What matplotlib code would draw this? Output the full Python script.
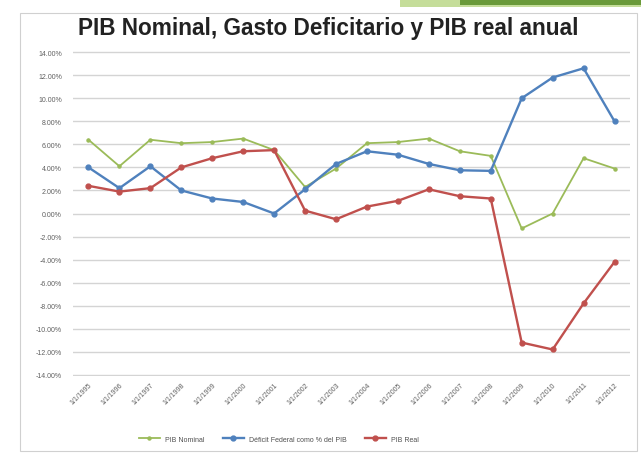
import matplotlib
matplotlib.use('Agg')
import matplotlib.pyplot as plt
from matplotlib.patches import Rectangle
from matplotlib.ticker import FuncFormatter

plt.rcParams['font.family'] = ['Liberation Sans', 'DejaVu Sans']

# datos (%)
years = ["1/1/1995", "1/1/1996", "1/1/1997", "1/1/1998", "1/1/1999", "1/1/2000",
         "1/1/2001", "1/1/2002", "1/1/2003", "1/1/2004", "1/1/2005", "1/1/2006",
         "1/1/2007", "1/1/2008", "1/1/2009", "1/1/2010", "1/1/2011", "1/1/2012"]
pib_nominal = [6.4, 4.1, 6.4, 6.1, 6.2, 6.5, 5.5, 2.3, 3.9, 6.1, 6.2, 6.5,
               5.4, 5.0, -1.3, 0.0, 4.8, 3.9]
deficit = [4.0, 2.2, 4.1, 2.0, 1.3, 1.0, 0.0, 2.1, 4.3, 5.4, 5.1, 4.3,
           3.75, 3.7, 10.0, 11.8, 12.6, 8.0]
pib_real = [2.4, 1.9, 2.2, 4.0, 4.8, 5.4, 5.5, 0.25, -0.5, 0.6, 1.1, 2.1,
            1.5, 1.3, -11.2, -11.8, -7.8, -4.2]

fig = plt.figure(figsize=(6.41, 4.56), dpi=100)

# marco del grafico y barra verde de la diapositiva
fig.patches.append(Rectangle((20/641, 4/456), 617/641, 438/456, transform=fig.transFigure,
                             fill=False, edgecolor='#d0d0d0', lw=0.8))
fig.patches.append(Rectangle((400/641, 1 - 8/456), 241/641, 8/456, transform=fig.transFigure,
                             color='#c5dd9a', lw=0))
fig.patches.append(Rectangle((460/641, 1 - 6/456), 181/641, 6/456, transform=fig.transFigure,
                             color='#6a9a3a', lw=0))

ax = fig.add_axes([73/641, 1 - 377/456, 557/641, 325/456])
x = list(range(len(years)))

ax.plot(x, pib_nominal, color='#9BBB59', lw=1.3, marker='o', ms=2.2, label='PIB Nominal')
ax.plot(x, deficit, color='#4F81BD', lw=1.7, marker='o', ms=3.5, label='Déficit Federal como % del PIB')
ax.plot(x, pib_real, color='#C0504D', lw=1.7, marker='o', ms=3.5, label='PIB Real')

ax.set_xlim(-0.5, len(years) - 0.5)
ax.set_ylim(-14.1, 14.1)
ax.set_yticks(range(-14, 15, 2))
ax.yaxis.set_major_formatter(FuncFormatter(lambda v, p: f"{v:.2f}%"))
ax.grid(axis='y', color='#d4d4d4', lw=1)
ax.set_axisbelow(True)
for s in ax.spines.values():
    s.set_visible(False)
ax.tick_params(axis='both', length=0, labelsize=5, labelcolor='#606060')
ax.tick_params(axis='y', pad=8)
ax.set_xticks(x)
ax.set_xticklabels(years, rotation=45, ha='right', rotation_mode='anchor')

fig.text(0.512, 1 - 28/456, "PIB Nominal, Gasto Deficitario y PIB real anual",
         ha='center', va='center', fontsize=16.3, fontweight='bold', color='#222222')

ax.legend(loc='upper center', bbox_to_anchor=(0.37, -0.165), ncol=3, frameon=False,
          fontsize=5, labelcolor='#505050', columnspacing=2.6, handlelength=3)

fig.savefig('out.png', dpi=100)
